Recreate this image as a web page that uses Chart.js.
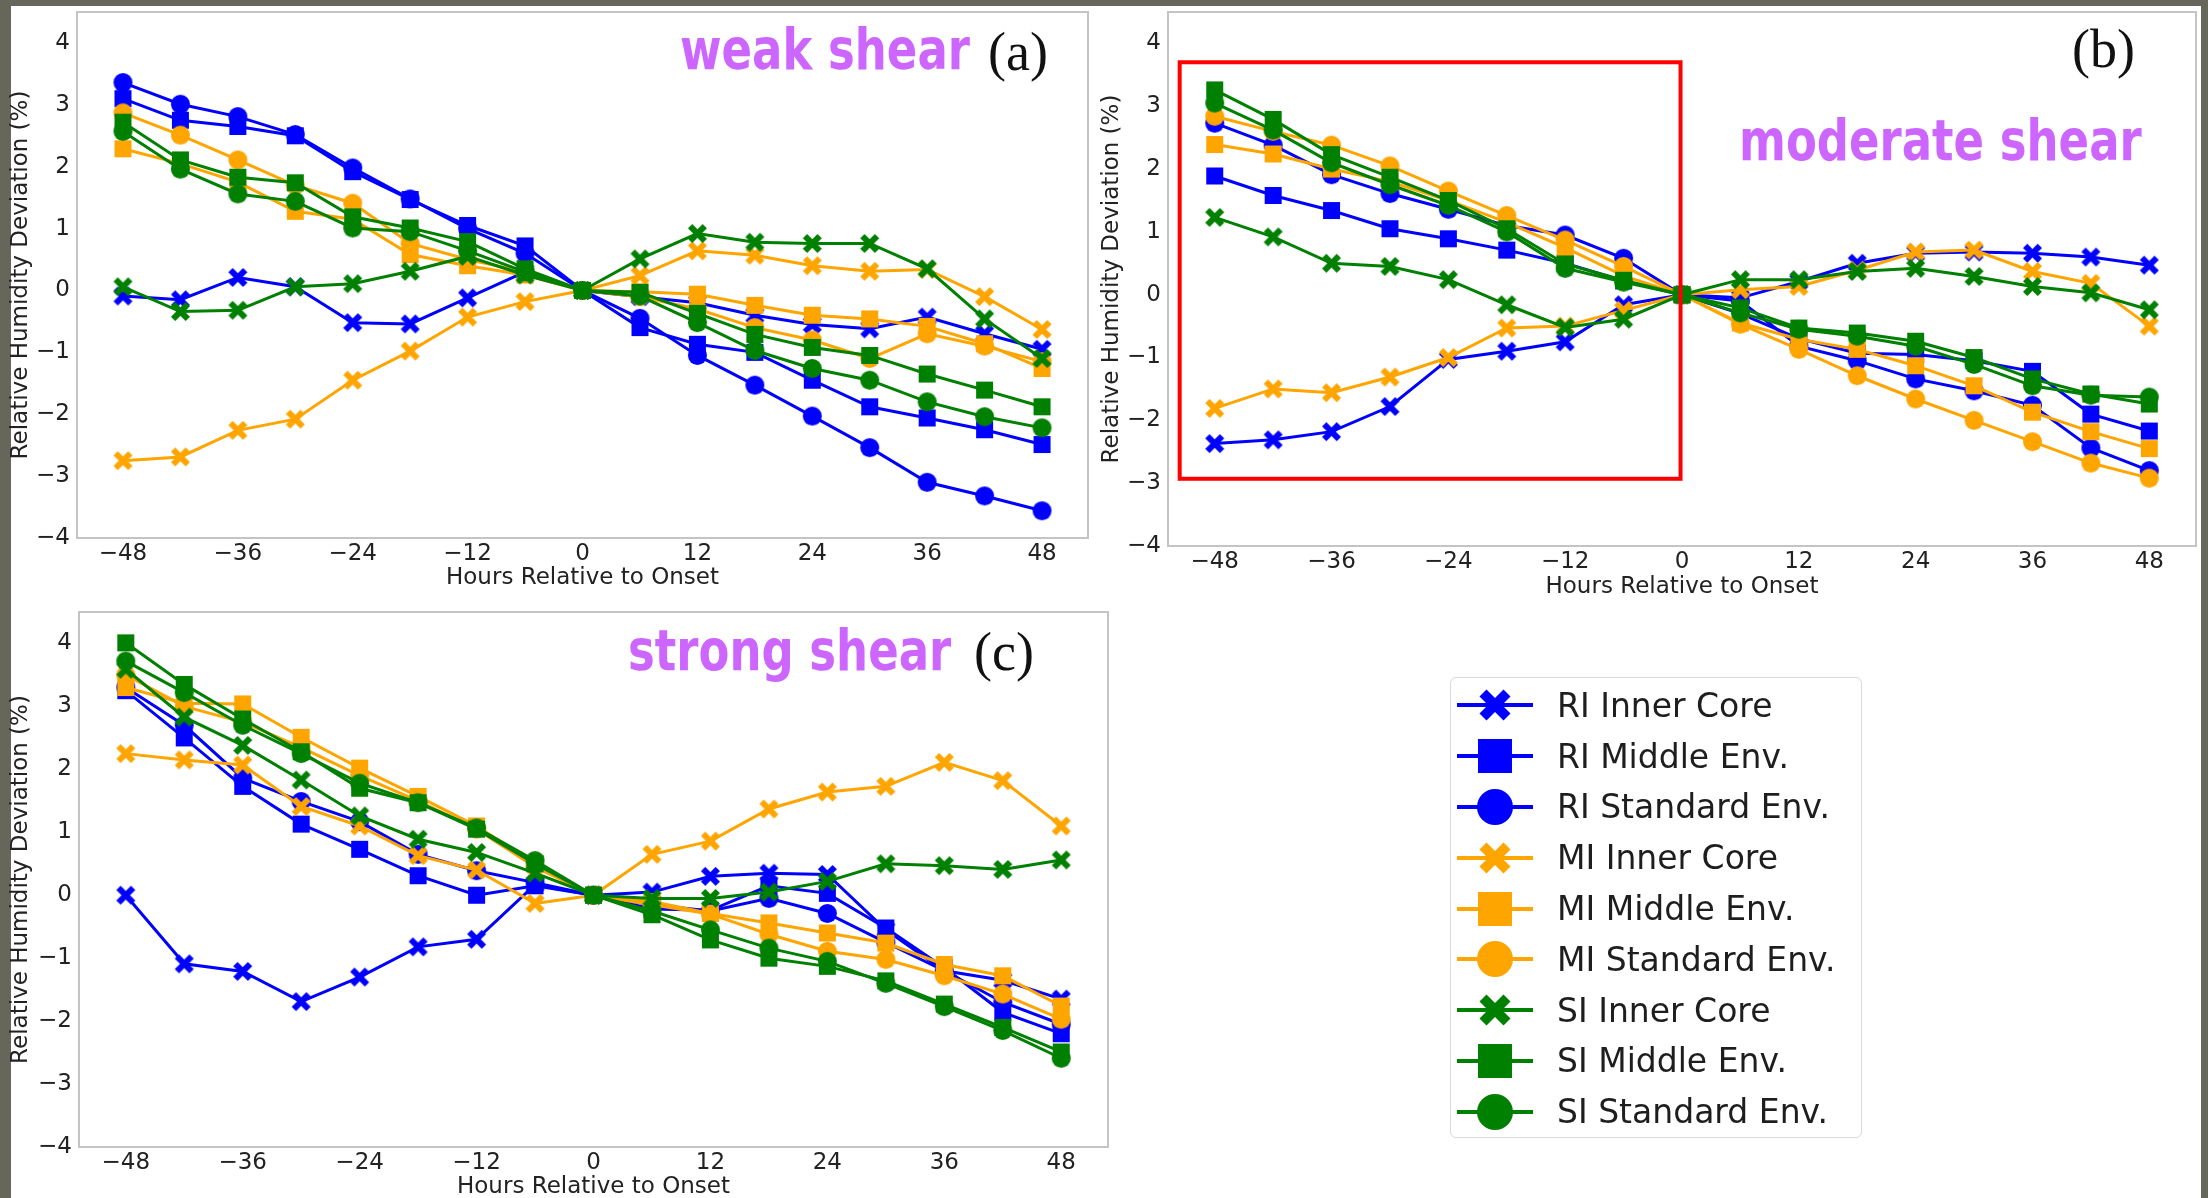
<!DOCTYPE html>
<html>
<head>
<meta charset="utf-8">
<script src="https://cdn.jsdelivr.net/npm/chart.js@4.4.1/dist/chart.umd.min.js"></script>
<style>
  html, body { margin: 0; padding: 0; }
  body { width: 2208px; height: 1198px; position: relative; overflow: hidden; background: #66665a; }
  #sheet { position: absolute; left: 11px; top: 6px; width: 2190px; height: 1192px; background: #ffffff; }
  canvas.panel { position: absolute; }
  #legend {
    position: absolute; left: 1450px; top: 677px; width: 412px; height: 461px;
    box-sizing: border-box; border: 1.5px solid #d9d9d9; border-radius: 6px;
    background: #ffffff; padding-top: 2px;
  }
  #legend .row { height: 50.8px; display: flex; align-items: center; }
  #legend .row canvas { margin-left: 6px; }
  #legend .row span { margin-left: 24px; font: 33px "DejaVu Sans", sans-serif; color: #1e1e1e; white-space: nowrap; }
</style>
</head>
<body>
<div id="sheet"></div>
<canvas id="weak" class="panel"></canvas>
<canvas id="moderate" class="panel"></canvas>
<canvas id="strong" class="panel"></canvas>
<div id="legend"></div>

<script>
// hours relative to onset
const hours = [-48, -42, -36, -30, -24, -18, -12, -6, 0, 6, 12, 18, 24, 30, 36, 42, 48];
const xTickValues = [-48, -36, -24, -12, 0, 12, 24, 36, 48];
const yTickValues = [-4, -3, -2, -1, 0, 1, 2, 3, 4];

const seriesNames = [
  'RI Inner Core', 'RI Middle Env.', 'RI Standard Env.',
  'MI Inner Core', 'MI Middle Env.', 'MI Standard Env.',
  'SI Inner Core', 'SI Middle Env.', 'SI Standard Env.'
];

// (a) weak shear
const weakRiInner    = [-0.09, -0.15, 0.21, 0.06, -0.52, -0.54, -0.12, 0.3, 0, -0.1, -0.2, -0.4, -0.55, -0.62, -0.43, -0.7, -0.95];
const weakRiMiddle   = [3.1, 2.75, 2.65, 2.5, 1.92, 1.47, 1.05, 0.72, 0, -0.6, -0.87, -1.0, -1.45, -1.88, -2.06, -2.25, -2.49];
const weakRiStandard = [3.36, 3.01, 2.81, 2.52, 1.98, 1.48, 1.0, 0.6, 0, -0.45, -1.05, -1.53, -2.03, -2.54, -3.1, -3.32, -3.56];
const weakMiInner    = [-2.75, -2.69, -2.26, -2.08, -1.45, -0.98, -0.43, -0.18, 0, 0.24, 0.64, 0.57, 0.4, 0.31, 0.34, -0.1, -0.63];
const weakMiMiddle   = [2.29, 2.05, 1.75, 1.28, 1.15, 0.58, 0.4, 0.25, 0, -0.02, -0.06, -0.24, -0.4, -0.46, -0.58, -0.86, -1.26];
const weakMiStandard = [2.87, 2.51, 2.11, 1.7, 1.41, 0.76, 0.5, 0.3, 0, -0.1, -0.3, -0.6, -0.8, -1.1, -0.7, -0.9, -1.15];
const weakSiInner    = [0.06, -0.34, -0.32, 0.06, 0.11, 0.31, 0.55, 0.25, 0, 0.51, 0.92, 0.78, 0.76, 0.76, 0.35, -0.46, -1.1];
const weakSiMiddle   = [2.72, 2.11, 1.83, 1.74, 1.19, 1.01, 0.79, 0.35, 0, -0.03, -0.37, -0.71, -0.92, -1.05, -1.35, -1.61, -1.88];
const weakSiStandard = [2.57, 1.96, 1.56, 1.44, 1.01, 0.95, 0.64, 0.3, 0, -0.09, -0.52, -0.97, -1.26, -1.45, -1.8, -2.04, -2.22];

// (b) moderate shear
const modRiInner    = [-2.37, -2.31, -2.18, -1.78, -1.03, -0.9, -0.75, -0.16, 0, -0.05, 0.21, 0.5, 0.66, 0.68, 0.66, 0.6, 0.47];
const modRiMiddle   = [1.89, 1.58, 1.34, 1.05, 0.89, 0.71, 0.5, 0.22, 0, -0.3, -0.7, -0.93, -0.95, -1.05, -1.22, -1.9, -2.17];
const modRiStandard = [2.73, 2.38, 1.91, 1.61, 1.36, 1.1, 0.95, 0.58, 0, -0.1, -0.82, -1.05, -1.34, -1.53, -1.76, -2.44, -2.8];
const modMiInner    = [-1.81, -1.5, -1.56, -1.31, -1.0, -0.53, -0.5, -0.25, 0, 0.08, 0.13, 0.39, 0.68, 0.71, 0.37, 0.18, -0.5];
const modMiMiddle   = [2.39, 2.24, 2.0, 1.8, 1.5, 1.15, 0.75, 0.3, 0, -0.45, -0.71, -0.87, -1.13, -1.45, -1.87, -2.18, -2.45];
const modMiStandard = [2.84, 2.6, 2.38, 2.05, 1.65, 1.26, 0.87, 0.45, 0, -0.47, -0.87, -1.29, -1.66, -2.0, -2.34, -2.68, -2.92];
const modSiInner    = [1.23, 0.92, 0.5, 0.45, 0.24, -0.16, -0.52, -0.39, 0, 0.24, 0.24, 0.37, 0.42, 0.29, 0.13, 0.03, -0.24];
const modSiMiddle   = [3.26, 2.79, 2.23, 1.87, 1.5, 1.05, 0.49, 0.23, 0, -0.21, -0.53, -0.61, -0.74, -1.0, -1.34, -1.58, -1.74];
const modSiStandard = [3.05, 2.62, 2.1, 1.75, 1.42, 1.0, 0.42, 0.2, 0, -0.29, -0.55, -0.66, -0.82, -1.11, -1.45, -1.6, -1.63];

// (c) strong shear
const strongRiInner    = [0.0, -1.09, -1.21, -1.69, -1.3, -0.82, -0.7, 0.17, 0, 0.05, 0.3, 0.35, 0.33, -0.55, -1.2, -1.35, -1.65];
const strongRiMiddle   = [3.25, 2.5, 1.73, 1.13, 0.73, 0.31, 0.0, 0.15, 0, -0.22, -0.24, 0.15, 0.03, -0.52, -1.15, -1.86, -2.2];
const strongRiStandard = [3.3, 2.7, 1.86, 1.49, 1.17, 0.65, 0.39, 0.2, 0, -0.15, -0.25, -0.05, -0.29, -0.75, -1.2, -1.7, -2.05];
const strongMiInner    = [2.25, 2.15, 2.07, 1.41, 1.1, 0.63, 0.4, -0.13, 0, 0.65, 0.86, 1.37, 1.64, 1.73, 2.11, 1.82, 1.1];
const strongMiMiddle   = [3.3, 3.05, 3.04, 2.51, 2.02, 1.57, 1.1, 0.5, 0, -0.1, -0.29, -0.44, -0.6, -0.76, -1.1, -1.28, -1.76];
const strongMiStandard = [3.5, 3.0, 2.75, 2.35, 1.9, 1.5, 1.05, 0.45, 0, -0.15, -0.3, -0.62, -0.89, -1.02, -1.28, -1.57, -1.97];
const strongSiInner    = [3.59, 2.83, 2.38, 1.83, 1.26, 0.89, 0.68, 0.35, 0, -0.05, -0.05, 0.05, 0.22, 0.5, 0.47, 0.41, 0.56];
const strongSiMiddle   = [4.01, 3.35, 2.8, 2.28, 1.7, 1.47, 1.05, 0.5, 0, -0.31, -0.71, -1.0, -1.13, -1.36, -1.73, -2.1, -2.49];
const strongSiStandard = [3.72, 3.22, 2.7, 2.25, 1.78, 1.47, 1.07, 0.55, 0, -0.25, -0.55, -0.84, -1.05, -1.4, -1.77, -2.15, -2.59];

// highlighted window in panel (b): hours and RH deviation
const highlightHours = [-51.6, -0.15];
const highlightRange = [-2.93, 3.7];

// styling
const seriesColors = ['#0000ff', '#0000ff', '#0000ff', '#ffa500', '#ffa500', '#ffa500', '#008000', '#008000', '#008000'];
const seriesShapes = ['x', 'square', 'circle', 'x', 'square', 'circle', 'x', 'square', 'circle'];
const plotMarkerSize = { x: 19, square: 17, circle: 19 };
const legendMarkerSize = { x: 31, square: 34, circle: 36 };

const axisFont = { family: '"DejaVu Sans", sans-serif', size: 23 };
const textColor = '#222222';

function drawMarker(ctx, shape, color, cx, cy, size) {
  ctx.save();
  ctx.fillStyle = color;
  ctx.translate(cx, cy);
  if (shape === 'circle') {
    ctx.beginPath();
    ctx.arc(0, 0, size / 2, 0, Math.PI * 2);
    ctx.fill();
  } else if (shape === 'square') {
    ctx.fillRect(-size / 2, -size / 2, size, size);
  } else {
    // filled "X" like matplotlib's marker
    ctx.rotate(Math.PI / 4);
    const w = size * 0.16;
    const arm = size * 0.707 - w;
    ctx.fillRect(-arm, -w, 2 * arm, 2 * w);
    ctx.fillRect(-w, -arm, 2 * w, 2 * arm);
  }
  ctx.restore();
}

function markerImage(shape, color, size) {
  const c = document.createElement('canvas');
  const s = Math.ceil(size) + 4;
  c.width = s;
  c.height = s;
  drawMarker(c.getContext('2d'), shape, color, s / 2, s / 2, size);
  return c;
}

const plotMarkers = seriesShapes.map((shape, i) => markerImage(shape, seriesColors[i], plotMarkerSize[shape]));

const minusFormat = v => (v < 0 ? '\u2212' + (-v) : String(v));

// keep tick labels from pushing the plotting area inwards
function noEdgePadding(s) {
  s.paddingTop = 0;
  s.paddingBottom = 0;
  s.paddingLeft = 0;
  s.paddingRight = 0;
}

// light box around each plotting area
const frameBox = {
  id: 'frameBox',
  afterDraw(chart) {
    const { ctx, chartArea: a } = chart;
    ctx.save();
    ctx.strokeStyle = '#c4c4c4';
    ctx.lineWidth = 2;
    ctx.strokeRect(a.left, a.top, a.right - a.left, a.bottom - a.top);
    ctx.restore();
  }
};

// red rectangle in data coordinates
const highlightBox = {
  id: 'highlightBox',
  afterDatasetsDraw(chart, args, opts) {
    if (!opts.show) return;
    const { ctx, scales: { x, y } } = chart;
    const x0 = x.getPixelForValue(highlightHours[0]);
    const x1 = x.getPixelForValue(highlightHours[1]);
    const y0 = y.getPixelForValue(highlightRange[1]);
    const y1 = y.getPixelForValue(highlightRange[0]);
    ctx.save();
    ctx.strokeStyle = '#ff0000';
    ctx.lineWidth = 4;
    ctx.strokeRect(x0, y0, x1 - x0, y1 - y0);
    ctx.restore();
  }
};

// shear label and panel letter
const panelText = {
  id: 'panelText',
  afterDraw(chart, args, opts) {
    const ctx = chart.ctx;
    ctx.save();
    ctx.textBaseline = 'alphabetic';
    ctx.textAlign = 'left';
    ctx.fillStyle = '#cc66ff';
    ctx.font = 'bold 45px "Comic Sans MS", "DejaVu Sans", sans-serif';
    ctx.translate(opts.shearX, opts.shearY);
    ctx.scale(1, 1.25);
    ctx.fillText(opts.shear, 0, 0);
    ctx.restore();

    ctx.save();
    ctx.textBaseline = 'alphabetic';
    ctx.textAlign = 'left';
    ctx.fillStyle = '#111111';
    ctx.font = '54px "Liberation Serif", "DejaVu Serif", serif';
    ctx.fillText(opts.letter, opts.letterX, opts.letterY);
    ctx.restore();
  }
};

const panels = [
  {
    id: 'weak', x: 0, y: 0, w: 1100, h: 592,
    area: { l: 77, t: 8, r: 1095, b: 538 }, yTitlePad: 7,
    series: [weakRiInner, weakRiMiddle, weakRiStandard, weakMiInner, weakMiMiddle, weakMiStandard, weakSiInner, weakSiMiddle, weakSiStandard],
    shear: 'weak shear', shearAt: [680, 69], letter: '(a)', letterAt: [988, 70], highlight: false
  },
  {
    id: 'moderate', x: 1098, y: 0, w: 1110, h: 601,
    area: { l: 1168, t: 8, r: 2198, b: 546 }, yTitlePad: 0,
    series: [modRiInner, modRiMiddle, modRiStandard, modMiInner, modMiMiddle, modMiStandard, modSiInner, modSiMiddle, modSiStandard],
    shear: 'moderate shear', shearAt: [1739, 160], letter: '(b)', letterAt: [2072, 67], highlight: true
  },
  {
    id: 'strong', x: 0, y: 600, w: 1120, h: 601,
    area: { l: 79, t: 610, r: 1110, b: 1147 }, yTitlePad: 7,
    series: [strongRiInner, strongRiMiddle, strongRiStandard, strongMiInner, strongMiMiddle, strongMiStandard, strongSiInner, strongSiMiddle, strongSiStandard],
    shear: 'strong shear', shearAt: [628, 670], letter: '(c)', letterAt: [974, 670], highlight: false
  }
];

panels.forEach(p => {
  const canvas = document.getElementById(p.id);
  canvas.width = p.w;
  canvas.height = p.h;
  canvas.style.left = p.x + 'px';
  canvas.style.top = p.y + 'px';
  const a = p.area;

  const datasets = p.series.map((values, i) => ({
    label: seriesNames[i],
    data: hours.map((h, j) => ({ x: h, y: values[j] })),
    borderColor: seriesColors[i],
    backgroundColor: seriesColors[i],
    borderWidth: 3,
    tension: 0,
    pointStyle: plotMarkers[i],
    pointRadius: 9,
    pointHoverRadius: 9,
    order: seriesNames.length - i
  }));

  new Chart(canvas, {
    type: 'line',
    data: { datasets },
    options: {
      responsive: false,
      animation: false,
      events: [],
      layout: { padding: { left: 0, top: a.t - p.y, right: p.x + p.w - a.r, bottom: 0 } },
      plugins: {
        legend: { display: false },
        tooltip: { enabled: false },
        highlightBox: { show: p.highlight },
        panelText: {
          shear: p.shear, shearX: p.shearAt[0] - p.x, shearY: p.shearAt[1] - p.y,
          letter: p.letter, letterX: p.letterAt[0] - p.x, letterY: p.letterAt[1] - p.y
        }
      },
      scales: {
        x: {
          type: 'linear',
          min: -52.8,
          max: 52.8,
          afterBuildTicks: s => { s.ticks = xTickValues.map(v => ({ value: v })); },
          afterFit: s => { s.height = p.y + p.h - a.b; noEdgePadding(s); },
          grid: { display: false, drawTicks: false },
          border: { display: false },
          ticks: { font: axisFont, color: textColor, padding: 2, maxRotation: 0, autoSkip: false, callback: minusFormat },
          title: { display: true, text: 'Hours Relative to Onset', font: axisFont, color: textColor, padding: 0 }
        },
        y: {
          min: -4,
          max: 4.5,
          afterBuildTicks: s => { s.ticks = yTickValues.map(v => ({ value: v })); },
          afterFit: s => { s.width = a.l - p.x; noEdgePadding(s); },
          grid: { display: false, drawTicks: false },
          border: { display: false },
          ticks: { font: axisFont, color: textColor, padding: 7, autoSkip: false, callback: minusFormat },
          title: { display: true, text: 'Relative Humidity Deviation (%)', font: axisFont, color: textColor, padding: { top: p.yTitlePad, bottom: 0 } }
        }
      }
    },
    plugins: [frameBox, highlightBox, panelText]
  });
});

// legend with line + marker swatches
const legend = document.getElementById('legend');
seriesNames.forEach((name, i) => {
  const row = document.createElement('div');
  row.className = 'row';
  const swatch = document.createElement('canvas');
  swatch.width = 76;
  swatch.height = 50;
  const ctx = swatch.getContext('2d');
  ctx.strokeStyle = seriesColors[i];
  ctx.lineWidth = 4;
  ctx.beginPath();
  ctx.moveTo(0, 25);
  ctx.lineTo(76, 25);
  ctx.stroke();
  drawMarker(ctx, seriesShapes[i], seriesColors[i], 38, 25, legendMarkerSize[seriesShapes[i]]);
  const label = document.createElement('span');
  label.textContent = name;
  row.appendChild(swatch);
  row.appendChild(label);
  legend.appendChild(row);
});
</script>
</body>
</html>
